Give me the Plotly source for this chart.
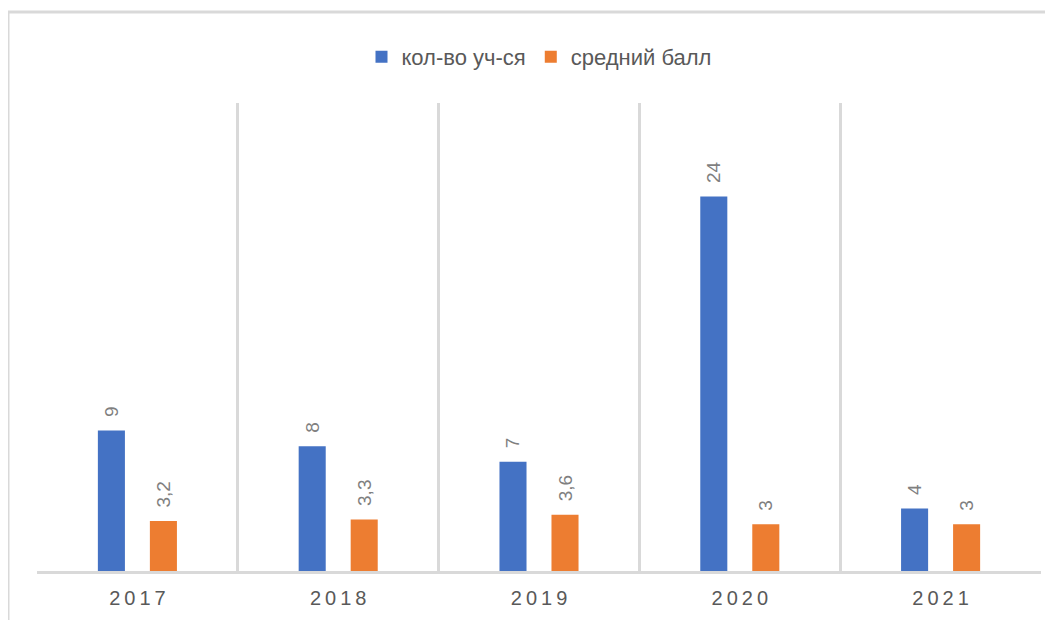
import plotly.graph_objects as go

years = ["2017", "2018", "2019", "2020", "2021"]
students = [9, 8, 7, 24, 4]
avg_score = [3.2, 3.3, 3.6, 3, 3]
series_names = ["кол-во уч-ся", "средний балл"]
tick_labels = ["\u2009".join(y) for y in years]


def fmt(v):
    s = ("%g" % v).replace(".", ",")
    return "\u00a0\u00a0" + s


# the page body adds an 8px offset; compensate so the plot lands where wanted
OFF = 8
W, H = 1053 - OFF, 620 - OFF
L, R, T, B = 37 - OFF, 12, 103 - OFF, 49
pw, ph = W - L - R, H - T - B

label_font = dict(family="Liberation Sans, Arial, sans-serif", size=19, color="#7f7f7f")

fig = go.Figure()
fig.add_trace(go.Bar(
    x=years, y=students, name=series_names[0],
    marker=dict(color="#4472C4", line=dict(width=0)),
    text=[fmt(v) for v in students], textposition="outside", textangle=-90,
    textfont=label_font, cliponaxis=False, constraintext="none",
))
fig.add_trace(go.Bar(
    x=years, y=avg_score, name=series_names[1],
    marker=dict(color="#ED7D31", line=dict(width=0)),
    text=[fmt(v) for v in avg_score], textposition="outside", textangle=-90,
    textfont=label_font, cliponaxis=False, constraintext="none",
))

fig.update_layout(
    width=W, height=H,
    margin=dict(l=L, r=R, t=T, b=B, pad=0, autoexpand=False),
    paper_bgcolor="white", plot_bgcolor="white",
    barmode="group", bargap=0.482, bargroupgap=0.48,
    font=dict(family="Liberation Sans, Arial, sans-serif", color="#595959"),
    legend=dict(
        orientation="h", x=0.5, xanchor="center", y=1 + (T - (57 - OFF)) / ph, yanchor="middle",
        font=dict(size=22, color="#595959"), itemsizing="constant",
        traceorder="normal", bgcolor="rgba(0,0,0,0)", itemwidth=30,
    ),
    xaxis=dict(
        tickvals=years, ticktext=tick_labels, tickson="boundaries",
        showgrid=True, gridcolor="#d9d9d9", gridwidth=3,
        showline=True, linecolor="#d9d9d9", linewidth=3,
        ticks="outside", ticklen=0, tickcolor="rgba(0,0,0,0)",
        tickfont=dict(size=20, color="#595959"), automargin=False,
        ticklabelstandoff=7, range=[-0.5, 4.5], zeroline=False,
    ),
    yaxis=dict(range=[0, 30], showgrid=False, showticklabels=False,
               zeroline=False, showline=False, ticks="", automargin=False),
    shapes=[dict(
        type="rect", xref="paper", yref="paper",
        x0=(8 - OFF - L) / pw, x1=(W + 10 - L) / pw,
        y0=-(B + 10) / ph, y1=1 + (T - (12 - OFF)) / ph,
        line=dict(color="#d9d9d9", width=3), fillcolor="rgba(0,0,0,0)", layer="below",
    )],
)

fig.write_html("out.html")
